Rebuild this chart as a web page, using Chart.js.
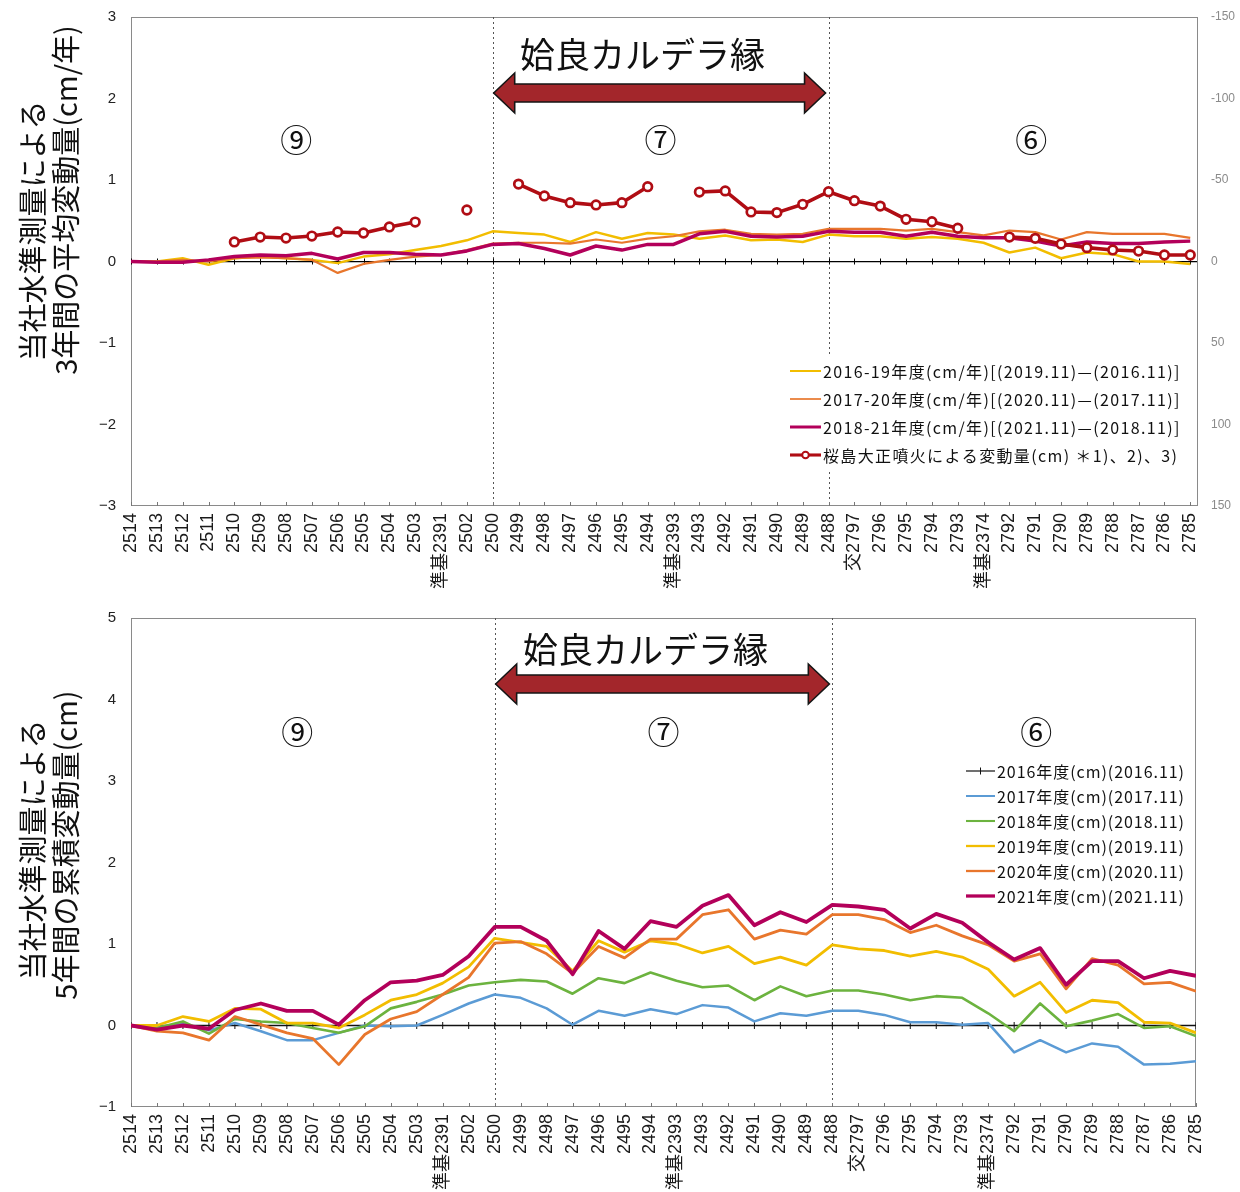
<!DOCTYPE html>
<html lang="ja">
<head>
<meta charset="utf-8">
<title>水準測量による変動量</title>
<script src="https://cdn.jsdelivr.net/npm/chart.js@4.4.1/dist/chart.umd.min.js"></script>
<style>
  html, body { margin: 0; padding: 0; background: #fff; }
  #wrap { position: relative; width: 1240px; height: 1192px; }
  canvas { position: absolute; left: 0; }
  #c1 { top: 0; }
  #c2 { top: 600px; }
</style>
</head>
<body>
<div id="wrap">
  <canvas id="c1" width="1240" height="600"></canvas>
  <canvas id="c2" width="1240" height="592"></canvas>
</div>
<script>
// 水準点（路線順）
const categories = ['2514','2513','2512','2511','2510','2509','2508','2507','2506','2505','2504','2503','準基2391','2502','2500',
  '2499','2498','2497','2496','2495','2494','準基2393','2493','2492','2491','2490','2489','2488','交2797','2796','2795','2794',
  '2793','準基2374','2792','2791','2790','2789','2788','2787','2786','2785'];

// 3年間の平均変動量 (cm/年)
const rate1619 = [0, 0, 0.04, -0.04, 0.04, 0.06, 0.04, 0.02, -0.02, 0.06, 0.09, 0.14, 0.19, 0.26, 0.37,
  0.35, 0.33, 0.24, 0.36, 0.28, 0.35, 0.33, 0.28, 0.32, 0.26, 0.27, 0.24, 0.33, 0.31, 0.31, 0.28, 0.30,
  0.28, 0.23, 0.11, 0.17, 0.04, 0.11, 0.09, 0.00, 0.00, -0.03];
const rate1720 = [0, 0, 0.02, 0, 0.04, 0.05, 0.04, 0.02, -0.14, -0.03, 0.02, 0.06, 0.08, 0.14, 0.22,
  0.23, 0.23, 0.22, 0.27, 0.23, 0.28, 0.31, 0.37, 0.39, 0.34, 0.33, 0.34, 0.40, 0.40, 0.40, 0.38, 0.40,
  0.36, 0.32, 0.38, 0.36, 0.27, 0.36, 0.34, 0.34, 0.34, 0.29];
const rate1821 = [0, -0.01, -0.01, 0.02, 0.06, 0.08, 0.07, 0.10, 0.03, 0.11, 0.11, 0.09, 0.08, 0.13, 0.21,
  0.22, 0.16, 0.08, 0.19, 0.14, 0.21, 0.21, 0.34, 0.37, 0.31, 0.30, 0.31, 0.37, 0.36, 0.36, 0.31, 0.36,
  0.31, 0.29, 0.29, 0.25, 0.19, 0.24, 0.22, 0.22, 0.24, 0.25];
// 桜島大正噴火による変動量 (cm, 右軸)
const taishoShift = [null, null, null, null, -12.0, -15.0, -14.4, -15.6, -18.1, -17.5, -21.2, -24.2, null, -31.6, null,
  -47.5, -40.2, -36.1, -34.7, -36.1, -45.9, null, -42.6, -43.3, -30.4, -30.0, -35.1, -42.8, -37.3, -34.0, -25.9, -24.4,
  -20.4, null, -15.0, -14.2, -10.7, -8.5, -7.1, -6.4, -4.0, -4.0];

// 5年間の累積変動量 (cm)
const cum2016 = [0, 0, 0, 0, 0, 0, 0, 0, 0, 0, 0, 0, 0, 0, 0, 0, 0, 0, 0, 0, 0,
  0, 0, 0, 0, 0, 0, 0, 0, 0, 0, 0, 0, 0, 0, 0, 0, 0, 0, 0, 0, 0];
const cum2017 = [0, -0.02, 0.02, -0.06, 0.03, -0.07, -0.18, -0.18, -0.09, 0, -0.01, 0, 0.13, 0.27, 0.38,
  0.34, 0.21, 0.01, 0.18, 0.12, 0.20, 0.14, 0.25, 0.22, 0.05, 0.15, 0.12, 0.18, 0.18, 0.13, 0.04, 0.04,
  0.01, 0.03, -0.33, -0.18, -0.33, -0.22, -0.26, -0.48, -0.47, -0.44];
const cum2018 = [0, -0.03, 0.05, -0.10, 0.08, 0.05, 0.03, -0.03, -0.09, -0.01, 0.21, 0.29, 0.38, 0.49, 0.53,
  0.56, 0.54, 0.39, 0.58, 0.52, 0.65, 0.55, 0.47, 0.49, 0.31, 0.48, 0.36, 0.43, 0.43, 0.38, 0.31, 0.36,
  0.34, 0.15, -0.07, 0.27, -0.01, 0.06, 0.14, -0.03, -0.01, -0.13];
const cum2019 = [0, 0, 0.11, 0.05, 0.21, 0.20, 0.03, 0.03, -0.03, 0.13, 0.31, 0.38, 0.52, 0.72, 1.07,
  1.02, 0.97, 0.67, 1.04, 0.90, 1.04, 1.00, 0.89, 0.97, 0.76, 0.84, 0.74, 0.99, 0.94, 0.92, 0.85, 0.91,
  0.84, 0.69, 0.36, 0.53, 0.16, 0.31, 0.28, 0.04, 0.03, -0.09];
const cum2020 = [0, -0.07, -0.09, -0.18, 0.11, 0.01, -0.09, -0.16, -0.48, -0.11, 0.08, 0.17, 0.38, 0.59, 1.01,
  1.03, 0.88, 0.64, 0.97, 0.83, 1.06, 1.06, 1.36, 1.42, 1.06, 1.17, 1.12, 1.36, 1.36, 1.30, 1.14, 1.23,
  1.10, 0.99, 0.79, 0.88, 0.45, 0.82, 0.74, 0.51, 0.53, 0.42];
const cum2021 = [0, -0.05, 0, -0.04, 0.19, 0.27, 0.18, 0.18, 0.01, 0.31, 0.53, 0.55, 0.62, 0.85, 1.21,
  1.21, 1.04, 0.63, 1.16, 0.94, 1.28, 1.21, 1.47, 1.60, 1.23, 1.39, 1.27, 1.48, 1.46, 1.42, 1.19, 1.37,
  1.26, 1.02, 0.81, 0.95, 0.50, 0.79, 0.79, 0.58, 0.67, 0.61];

// 区間番号
const zoneLabels = ['⑨', '⑦', '⑥'];
const zonePositions = [6.4, 20.5, 34.85];
const calderaEdge = [14, 27];   // 2500 〜 2488

const JP = '"Noto Sans CJK JP", "Noto Sans", sans-serif';
const LAT = '"Liberation Sans", Arial, "Noto Sans CJK JP", sans-serif';

const C_GOLD = '#f2bd00', C_ORANGE = '#e8762c', C_MAGENTA = '#b3005a', C_RED = '#b00d14',
      C_BLUE = '#5b9bd5', C_GREEN = '#6cb33f';

const xy = arr => arr.map((v, i) => ({ x: i, y: v }));
const minus = v => String(v).replace('-', '−');
// 軸の余白は自前で決めるので、目盛ラベル由来の余白は使わない
const noPad = s => { s.paddingTop = 0; s.paddingBottom = 0; s.paddingLeft = 0; s.paddingRight = 0; };

// 軸タイトル（縦書き 2 行）
const sideTitle = {
  id: 'sideTitle',
  afterDraw(chart, args, o) {
    const ctx = chart.ctx;
    ctx.save();
    ctx.font = o.font;
    ctx.fillStyle = '#111';
    ctx.textAlign = 'center';
    ctx.textBaseline = 'middle';
    o.lines.forEach(l => {
      ctx.save();
      ctx.translate(l.x, l.y);
      ctx.rotate(-Math.PI / 2);
      ctx.fillText(l.text, 0, 0);
      ctx.restore();
    });
    ctx.restore();
  }
};

// 枠・区間境界・目盛・カルデラ縁の矢印・区間番号
const decor = {
  id: 'decor',
  beforeDatasetsDraw(chart, args, o) {
    const { ctx, chartArea: a, scales: { x, y } } = chart;
    ctx.save();
    ctx.strokeStyle = '#8a8a8a';
    ctx.lineWidth = 1;
    ctx.strokeRect(a.left + 0.5, a.top + 0.5, a.width - 1, a.height - 1);

    ctx.strokeStyle = '#555';
    ctx.setLineDash([2, 3]);
    calderaEdge.forEach(i => {
      const px = Math.round(x.getPixelForValue(i)) + 0.5;
      ctx.beginPath(); ctx.moveTo(px, a.top); ctx.lineTo(px, a.bottom); ctx.stroke();
    });
    ctx.setLineDash([]);

    ctx.strokeStyle = '#777';
    ctx.beginPath();
    categories.forEach((c, i) => {
      const px = Math.round(x.getPixelForValue(i)) + 0.5;
      ctx.moveTo(px, a.bottom); ctx.lineTo(px, a.bottom - 4);
    });
    ctx.stroke();

    if (o.zeroTicks) {
      const y0 = y.getPixelForValue(0);
      ctx.strokeStyle = '#000';
      ctx.beginPath();
      categories.forEach((c, i) => {
        const px = Math.round(x.getPixelForValue(i)) + 0.5;
        ctx.moveTo(px, y0 - 3); ctx.lineTo(px, y0 + 3);
      });
      ctx.stroke();
    }
    ctx.restore();
  },
  afterDatasetsDraw(chart, args, o) {
    const { ctx, scales: { x } } = chart;
    const x1 = x.getPixelForValue(calderaEdge[0]) + 1;
    const x2 = x.getPixelForValue(calderaEdge[1]) - 3;
    const yc = o.arrowY, sh = 18, hh = 40, hl = 21;
    ctx.save();
    ctx.beginPath();
    ctx.moveTo(x1, yc);
    ctx.lineTo(x1 + hl, yc - hh / 2);
    ctx.lineTo(x1 + hl, yc - sh / 2);
    ctx.lineTo(x2 - hl, yc - sh / 2);
    ctx.lineTo(x2 - hl, yc - hh / 2);
    ctx.lineTo(x2, yc);
    ctx.lineTo(x2 - hl, yc + hh / 2);
    ctx.lineTo(x2 - hl, yc + sh / 2);
    ctx.lineTo(x1 + hl, yc + sh / 2);
    ctx.lineTo(x1 + hl, yc + hh / 2);
    ctx.closePath();
    ctx.fillStyle = '#a3262b';
    ctx.fill();
    ctx.strokeStyle = '#151515';
    ctx.lineWidth = 1.6;
    ctx.stroke();

    ctx.fillStyle = '#111';
    ctx.textAlign = 'center';
    ctx.textBaseline = 'middle';
    ctx.font = '35px ' + JP;
    ctx.fillText('姶良カルデラ縁', (x1 + x2) / 2 - 17, o.textY);

    ctx.font = '32px ' + JP;
    zoneLabels.forEach((t, k) => {
      ctx.fillText(t, x.getPixelForValue(zonePositions[k]), o.zoneY);
    });
    ctx.restore();
  }
};

// 凡例
const legendBox = {
  id: 'legendBox',
  afterDatasetsDraw(chart, args, o) {
    const ctx = chart.ctx;
    ctx.save();
    ctx.fillStyle = '#fff';
    ctx.fillRect(...o.box);
    ctx.font = o.font;
    ctx.textAlign = 'left';
    ctx.textBaseline = 'middle';
    if ('letterSpacing' in ctx) ctx.letterSpacing = o.spacing;
    o.items.forEach((di, k) => {
      const ds = chart.data.datasets[di];
      const y = o.y0 + k * o.dy;
      ctx.strokeStyle = ds.borderColor;
      ctx.lineWidth = Math.max(1.2, ds.borderWidth - 0.5);
      ctx.beginPath(); ctx.moveTo(o.x0, y); ctx.lineTo(o.x1, y); ctx.stroke();
      const mx = (o.x0 + o.x1) / 2;
      if (ds.pointStyle === 'circle') {
        ctx.beginPath(); ctx.arc(mx, y, 3.3, 0, Math.PI * 2);
        ctx.fillStyle = '#fff'; ctx.fill();
        ctx.lineWidth = 2; ctx.stroke();
      } else if (ds.pointStyle === 'line') {
        ctx.lineWidth = 1;
        ctx.beginPath(); ctx.moveTo(mx, y - 3.5); ctx.lineTo(mx, y + 3.5); ctx.stroke();
      }
      ctx.fillStyle = '#111';
      ctx.fillText(ds.label, o.x1 + 2, y + 1);
    });
    ctx.restore();
  }
};

function xScale(max, labelPad) {
  return {
    type: 'linear', min: 0, max: max,
    grid: { display: false, drawTicks: false },
    border: { display: false },
    afterFit: s => { s.height = labelPad; noPad(s); },
    ticks: {
      stepSize: 1, includeBounds: false, autoSkip: false,
      minRotation: 90, maxRotation: 90, padding: 7,
      color: '#1a1a1a', font: { family: LAT, size: 18 },
      callback: v => categories[Math.round(v)] ?? ''
    }
  };
}

const lineBase = { pointRadius: 0, fill: false, tension: 0, spanGaps: false, borderJoinStyle: 'round' };

// 上段：3年間の平均変動量
new Chart(document.getElementById('c1'), {
  type: 'line',
  data: {
    datasets: [
      { ...lineBase, label: '2016-19年度(cm/年)[(2019.11)—(2016.11)]', data: xy(rate1619), borderColor: C_GOLD, borderWidth: 2.5, yAxisID: 'y', order: 4 },
      { ...lineBase, label: '2017-20年度(cm/年)[(2020.11)—(2017.11)]', data: xy(rate1720), borderColor: C_ORANGE, borderWidth: 2.2, yAxisID: 'y', order: 3 },
      { ...lineBase, label: '2018-21年度(cm/年)[(2021.11)—(2018.11)]', data: xy(rate1821), borderColor: C_MAGENTA, borderWidth: 3.5, yAxisID: 'y', order: 2 },
      { ...lineBase, label: '桜島大正噴火による変動量(cm) ＊1)、2)、3)', data: xy(taishoShift), borderColor: C_RED, borderWidth: 3.6,
        pointStyle: 'circle', pointRadius: 4.3, pointBackgroundColor: '#fff', pointBorderColor: C_RED, pointBorderWidth: 2.7,
        yAxisID: 'y2', order: 1 }
    ]
  },
  options: {
    responsive: false, animation: false,
    layout: { padding: { top: 17, left: 0, right: 0, bottom: 0 } },
    plugins: {
      legend: { display: false }, tooltip: { enabled: false },
      sideTitle: { font: '29px ' + JP, lines: [
        { text: '当社水準測量による', x: 33, y: 231 },
        { text: '3年間の平均変動量(cm/年)', x: 66, y: 200 }
      ] },
      decor: { zeroTicks: true, arrowY: 93, textY: 55, zoneY: 140 },
      legendBox: { box: [784, 356, 410, 116], font: '16px ' + JP, spacing: '1.35px',
        items: [0, 1, 2, 3], x0: 790, x1: 821, y0: 371, dy: 28 }
    },
    scales: {
      x: xScale(41.3, 94),
      y: {
        position: 'left', min: -3, max: 3,
        afterFit: s => { s.width = 131; noPad(s); },
        grid: { drawTicks: false, lineWidth: 1.3, color: c => c.tick.value === 0 ? '#000' : 'rgba(0,0,0,0)' },
        border: { display: false },
        ticks: { stepSize: 1, padding: 15, color: '#222', font: { family: LAT, size: 15 }, callback: minus }
      },
      y2: {
        position: 'right', min: -150, max: 150, reverse: true,
        afterFit: s => { s.width = 42; noPad(s); },
        grid: { display: false, drawTicks: false },
        border: { display: false },
        ticks: { stepSize: 50, padding: 13, color: '#8a8a8a', font: { family: LAT, size: 12 } }
      }
    }
  },
  plugins: [decor, sideTitle, legendBox]
});

// 下段：5年間の累積変動量
new Chart(document.getElementById('c2'), {
  type: 'line',
  data: {
    datasets: [
      { ...lineBase, label: '2016年度(cm)(2016.11)', data: xy(cum2016), borderColor: '#111', borderWidth: 1.4,
        pointStyle: 'line', pointRotation: 90, pointRadius: 3.5, pointBorderColor: '#111', pointBorderWidth: 1, order: 6 },
      { ...lineBase, label: '2017年度(cm)(2017.11)', data: xy(cum2017), borderColor: C_BLUE, borderWidth: 2.5, order: 5 },
      { ...lineBase, label: '2018年度(cm)(2018.11)', data: xy(cum2018), borderColor: C_GREEN, borderWidth: 2.6, order: 4 },
      { ...lineBase, label: '2019年度(cm)(2019.11)', data: xy(cum2019), borderColor: C_GOLD, borderWidth: 2.8, order: 3 },
      { ...lineBase, label: '2020年度(cm)(2020.11)', data: xy(cum2020), borderColor: C_ORANGE, borderWidth: 2.8, order: 2 },
      { ...lineBase, label: '2021年度(cm)(2021.11)', data: xy(cum2021), borderColor: C_MAGENTA, borderWidth: 3.8, order: 1 }
    ]
  },
  options: {
    responsive: false, animation: false,
    layout: { padding: { top: 18, left: 0, right: 44, bottom: 0 } },
    plugins: {
      legend: { display: false }, tooltip: { enabled: false },
      sideTitle: { font: '29px ' + JP, lines: [
        { text: '当社水準測量による', x: 33, y: 250 },
        { text: '5年間の累積変動量(cm)', x: 66, y: 245 }
      ] },
      decor: { zeroTicks: false, arrowY: 84, textY: 50, zoneY: 132 },
      legendBox: { box: [958, 157, 232, 152], font: '16px ' + JP, spacing: '0.95px',
        items: [0, 1, 2, 3, 4, 5], x0: 966, x1: 995, y0: 171, dy: 25 }
    },
    scales: {
      x: xScale(41, 85),
      y: {
        position: 'left', min: -1, max: 5,
        afterFit: s => { s.width = 131; noPad(s); },
        grid: { display: false, drawTicks: false },
        border: { display: false },
        ticks: { stepSize: 1, padding: 15, color: '#222', font: { family: LAT, size: 15 }, callback: minus }
      }
    }
  },
  plugins: [decor, sideTitle, legendBox]
});
</script>
</body>
</html>
